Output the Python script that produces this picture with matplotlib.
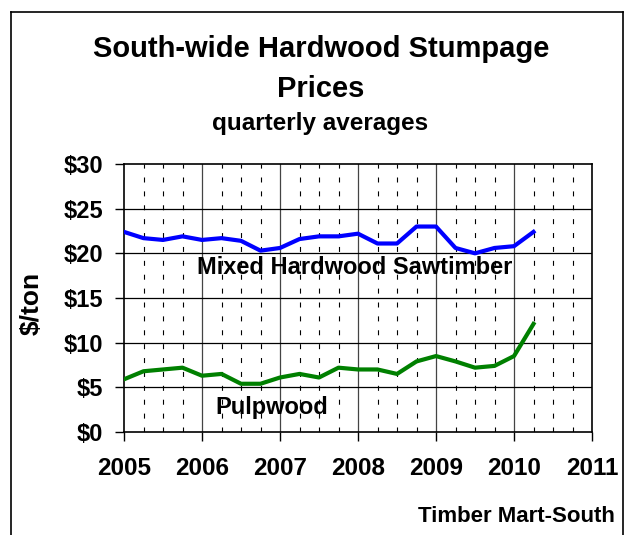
import matplotlib
matplotlib.use('Agg')
from matplotlib import pyplot as plt
from matplotlib.lines import Line2D

# quarterly data, 2005 Q1 .. 2010 Q2
quarters = [2005 + 0.25 * i for i in range(22)]
sawtimber = [22.4, 21.7, 21.5, 21.9, 21.5, 21.7, 21.4, 20.3, 20.6, 21.6, 21.9,
             21.9, 22.2, 21.1, 21.1, 23.0, 23.0, 20.6, 20.0, 20.6, 20.8, 22.4]
pulpwood = [5.9, 6.8, 7.0, 7.2, 6.3, 6.5, 5.4, 5.4, 6.1, 6.5, 6.1,
            7.2, 7.0, 7.0, 6.5, 7.9, 8.5, 7.9, 7.2, 7.4, 8.5, 12.1]
years = [2005, 2006, 2007, 2008, 2009, 2010, 2011]
yticks = [0, 5, 10, 15, 20, 25, 30]
ytick_labels = ['$0', '$5', '$10', '$15', '$20', '$25', '$30']

plt.rcParams['font.family'] = ['Liberation Sans', 'DejaVu Sans']
plt.rcParams['font.weight'] = 'bold'

W, H = 626, 535
fig = plt.figure(figsize=(W / 100, H / 100), dpi=100)
ax = fig.add_axes([124 / W, 1 - 432 / H, (592 - 124) / W, (432 - 164) / H])

ax.set_xlim(2005, 2011)
ax.set_ylim(0, 30)

# quarter dashed lines and year solid lines
for y in years[:-1]:
    for q in (0.25, 0.5, 0.75):
        ax.axvline(y + q, color='black', lw=0.8, ls=(0, (4.5, 8)), zorder=1)
for y in years[1:-1]:
    ax.axvline(y, color='#444444', lw=0.9, zorder=1)
for v in yticks[1:-1]:
    ax.axhline(v, color='black', lw=0.9, zorder=1)

ax.plot(quarters, sawtimber, color='#0000ff', lw=3.0, zorder=3)
ax.plot(quarters, pulpwood, color='#008000', lw=3.0, zorder=3)

ax.text(2007.96, 18.36, 'Mixed Hardwood Sawtimber', fontsize=17, fontweight='bold',
        ha='center', va='center', zorder=4)
ax.text(2006.9, 2.69, 'Pulpwood', fontsize=17, fontweight='bold',
        ha='center', va='center', zorder=4)

ax.set_xticks(years)
ax.set_xticklabels([str(y) for y in years], fontsize=17.5, fontweight='bold')
ax.set_yticks(yticks)
ax.set_yticklabels(ytick_labels, fontsize=17, fontweight='bold')
ax.tick_params(axis='both', direction='out', length=6.5, width=1)
ax.tick_params(axis='y', pad=8.5)
ax.tick_params(axis='x', pad=11.5)
for s in ax.spines.values():
    s.set_linewidth(1.2)

fig.text(32 / W, 1 - 303 / H, '$/ton', fontsize=19, fontweight='bold',
         rotation=90, ha='center', va='center')

fig.text(321 / W, 1 - 57 / H, 'South-wide Hardwood Stumpage', fontsize=21,
         fontweight='bold', ha='center', va='baseline')
fig.text(321 / W, 1 - 97 / H, 'Prices', fontsize=21,
         fontweight='bold', ha='center', va='baseline')
fig.text(320 / W, 1 - 130 / H, 'quarterly averages', fontsize=17.5,
         fontweight='bold', ha='center', va='baseline')
fig.text(615 / W, 1 - 522 / H, 'Timber Mart-South', fontsize=16,
         fontweight='bold', ha='right', va='baseline')

# outer frame
fig.add_artist(Line2D([11 / W, 11 / W], [0, 1 - 12 / H], color='black', lw=1.2))
fig.add_artist(Line2D([11 / W, 623 / W], [1 - 12 / H, 1 - 12 / H], color='black', lw=1.2))
fig.add_artist(Line2D([623 / W, 623 / W], [0, 1 - 12 / H], color='black', lw=1.2))

fig.savefig('out.png', dpi=100)
